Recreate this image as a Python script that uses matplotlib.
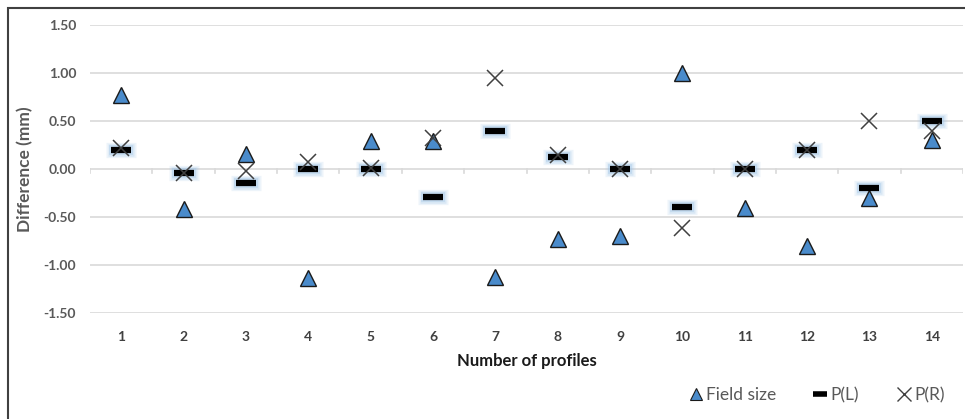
import matplotlib
matplotlib.use("Agg")
import matplotlib.pyplot as plt
from matplotlib.patches import Rectangle
from matplotlib.lines import Line2D

plt.rcParams['font.family'] = ['Lato', 'DejaVu Sans']

profiles = list(range(1, 15))
tick_labels = [str(p) for p in profiles]
field_size = [0.77, -0.42, 0.16, -1.14, 0.29, 0.29, -1.12, -0.73, -0.70, 1.00, -0.41, -0.80, -0.30, 0.30]
p_left = [0.20, -0.04, -0.15, 0.00, 0.00, -0.29, 0.40, 0.13, 0.00, -0.40, 0.00, 0.20, -0.20, 0.50]
p_right = [0.22, -0.04, -0.02, 0.07, 0.01, 0.32, 0.95, 0.15, 0.00, -0.61, 0.00, 0.20, 0.50, 0.40]
y_ticks = [1.50, 1.00, 0.50, 0.00, -0.50, -1.00, -1.50]

fig = plt.figure(figsize=(9.65, 4.19), dpi=100)
ax = fig.add_axes([90/965, 1-313/419, (963-90)/965, (313-25)/419])

ax.set_xlim(0.5, 14.5)
ax.set_ylim(-1.5, 1.5)
ax.set_yticks(y_ticks)
ax.set_yticklabels([f"{v:.2f}" for v in y_ticks], fontsize=10, fontweight='bold', color='#595959')
ax.set_xticks(profiles)
ax.set_xticklabels(tick_labels, fontsize=10, fontweight='bold', color='#404040')
ax.tick_params(axis='both', length=0)
ax.tick_params(axis='y', pad=10)
ax.tick_params(axis='x', pad=13)
for s in ax.spines.values():
    s.set_visible(False)
ax.grid(axis='y', color='#d9d9d9', lw=1.2)
ax.set_axisbelow(True)

# category separators on the zero line
for k in range(15):
    ax.plot([0.5 + k, 0.5 + k], [0, -0.045], color='#d9d9d9', lw=1.2, zorder=1)

# P(L) glow
for ms, mew, a in [(21, 11, 0.18), (19, 9, 0.25), (17, 7, 0.35)]:
    ax.plot(profiles, p_left, ls='none', marker='_', ms=ms, mew=mew, color='#9dc3e6', alpha=a,
            solid_capstyle='round', zorder=2)
ax.plot(profiles, p_left, ls='none', marker='_', ms=14, mew=4.5, color='black', zorder=4)
ax.plot(profiles, p_right, ls='none', marker='x', ms=12, mew=1.1, color='#404040', zorder=5)
ax.plot(profiles, field_size, ls='none', marker='^', ms=12, mfc='#4a8bcb', mec='#1a1a1a', mew=1.0, zorder=3)

ax.set_ylabel('Difference (mm)', fontsize=12.5, fontweight='bold', color='#595959', labelpad=7)
ax.set_xlabel('Number of profiles', fontsize=12, fontweight='bold', color='#1a1a1a', labelpad=7)

handles = [
    Line2D([], [], ls='none', marker='^', ms=8, mfc='#4a8bcb', mec='#1a1a1a', mew=0.8),
    Line2D([], [], ls='none', marker='_', ms=10, mew=4, color='black'),
    Line2D([], [], ls='none', marker='x', ms=10, mew=1.0, color='#404040'),
]
fig.legend(handles, ['Field size', 'P(L)', 'P(R)'], loc='lower right', bbox_to_anchor=(0.995, 0.0),
           ncol=3, frameon=False, handlelength=0.7, handletextpad=0.25, columnspacing=2.2,
           prop={'size': 12.5}, labelcolor='#595959')

fig.add_artist(Rectangle((8/965, -0.1), 1.2, 1 - 8/419 + 0.1, transform=fig.transFigure,
                         fill=False, ec='#404040', lw=1.5))

fig.savefig('out.png', dpi=100)
